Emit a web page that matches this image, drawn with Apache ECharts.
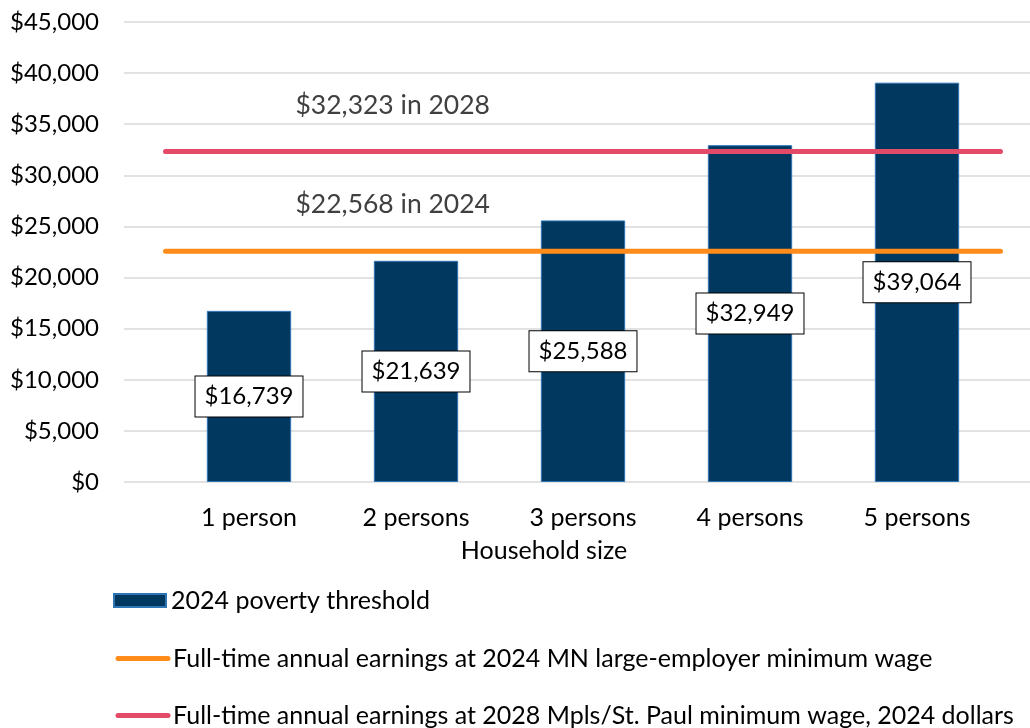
<!DOCTYPE html>
<html><head><meta charset="utf-8">
<script src="https://cdn.jsdelivr.net/npm/echarts@6/dist/echarts.min.js"></script>
<style>html,body{margin:0;padding:0;background:#fff}#c{width:1030px;height:728px}</style>
</head><body><div id="c"></div>
<script>
const categories = ['1 person', '2 persons', '3 persons', '4 persons', '5 persons'];
const povertyThreshold = [16739, 21639, 25588, 32949, 39064];
const minWage2024 = 22568;
const minWage2028 = 32323;
const yTicks = { min: 0, max: 45000, interval: 5000 };
const seriesNames = ['2024 poverty threshold',
  'Full-time annual earnings at 2024 MN large-employer minimum wage',
  'Full-time annual earnings at 2028 Mpls/St. Paul minimum wage, 2024 dollars'];
const annotations = ['$22,568 in 2024', '$32,323 in 2028'];

const FONT = 'Lato';
const NUM = 24;
const TXT = 25;
const money = v => '$' + v.toLocaleString('en-US');
const chart = echarts.init(document.getElementById('c'));
function lineData(v, txt) {
  return [{ value: [0, v], label: { show: true, formatter: txt } }, [1, v]];
}
function legendRow(name, top, line) {
  const item = { name: name };
  if (line) { item.itemStyle = { opacity: 0 }; item.lineStyle = { width: 5, cap: 'round' }; }
  return {
    orient: 'vertical', left: line ? 115.5 : 113, top: top, padding: 0,
    itemWidth: line ? 50 : 52, itemHeight: 13, icon: line ? undefined : 'rect',
    textStyle: { fontSize: TXT, lineHeight: 24, color: '#000', fontFamily: FONT },
    data: [item]
  };
}
const annLabel = { show: false, position: [130, -46.5], align: 'left', verticalAlign: 'middle',
  fontSize: 26.5, color: '#404040', fontFamily: FONT };
chart.setOption({
  animation: false,
  textStyle: { fontFamily: FONT },
  grid: [
    { left: 124, right: 0, top: 22, bottom: 246 },
    { left: 165.5, right: 29.5, top: 22, bottom: 246 }
  ],
  xAxis: [
    { type: 'category', gridIndex: 1, data: categories,
      axisLine: { show: false }, axisTick: { show: false },
      axisLabel: { fontSize: TXT, color: '#000', margin: 23, fontFamily: FONT },
      name: 'Household size', nameLocation: 'middle', nameGap: 56,
      nameTextStyle: { fontSize: TXT, color: '#000', fontFamily: FONT, padding: [0, 78, 0, 0] } },
    { type: 'value', gridIndex: 1, min: 0, max: 1, show: false },
    { type: 'value', gridIndex: 0, min: 0, max: 1, show: false }
  ],
  yAxis: [
    { type: 'value', gridIndex: 0, min: yTicks.min, max: yTicks.max, interval: yTicks.interval,
      axisLine: { show: false }, axisTick: { show: false },
      axisLabel: { fontSize: NUM, color: '#000', margin: 25, formatter: v => money(v), fontFamily: FONT },
      splitLine: { lineStyle: { color: '#d9d9d9', width: 1.5 } } },
    { type: 'value', gridIndex: 1, min: yTicks.min, max: yTicks.max, interval: yTicks.interval, show: false }
  ],
  legend: [
    legendRow(seriesNames[0], 588, false),
    legendRow(seriesNames[1], 646, true),
    legendRow(seriesNames[2], 703, true)
  ],
  series: [
    { name: seriesNames[0], type: 'bar', xAxisIndex: 0, yAxisIndex: 1,
      data: povertyThreshold, barWidth: '50.5%',
      itemStyle: { color: '#00385F', borderColor: '#2E75B6', borderWidth: 1 },
      label: { show: true, position: 'inside', formatter: p => money(p.value),
        fontSize: NUM, color: '#000', backgroundColor: '#fff', borderColor: '#000', borderWidth: 1,
        padding: [8, 9, 8, 9], fontFamily: FONT } },
    { name: seriesNames[1], type: 'line', xAxisIndex: 1, yAxisIndex: 1,
      data: lineData(minWage2024, annotations[0]), symbol: 'circle', symbolSize: 0, z: 5,
      lineStyle: { color: '#FF8C1A', width: 5, cap: 'round' }, itemStyle: { color: '#FF8C1A' },
      label: annLabel },
    { name: seriesNames[2], type: 'line', xAxisIndex: 1, yAxisIndex: 1,
      data: lineData(minWage2028, annotations[1]), symbol: 'circle', symbolSize: 0, z: 5,
      lineStyle: { color: '#E34A68', width: 5, cap: 'round' }, itemStyle: { color: '#E34A68' },
      label: annLabel }
  ]
});
</script></body></html>
